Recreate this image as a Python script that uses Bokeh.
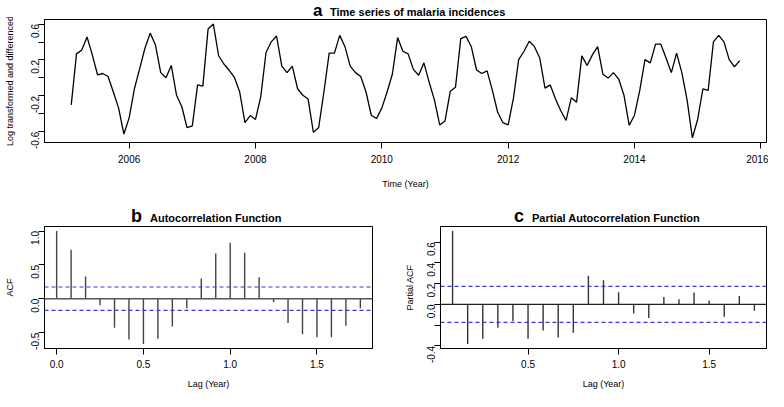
import math
from bokeh.plotting import figure
from bokeh.models import Range1d, FixedTicker, Span, PrintfTickFormatter, Div
from bokeh.layouts import column, row
from bokeh.embed import file_html
from bokeh.resources import INLINE

# ---------------- data ----------------
start_year = 2005
month_index = list(range(1, 129))  # Feb 2005 .. Sep 2015
series_values = [
    -0.300, 0.268, 0.310, 0.456, 0.257, 0.035, 0.049, 0.016, -0.157, -0.337, -0.625, -0.445,
    -0.121, 0.103, 0.330, 0.499, 0.366, 0.059, 0.002, 0.139, -0.193, -0.319, -0.553, -0.535,
    -0.078, -0.092, 0.546, 0.600, 0.247, 0.155, 0.085, 0.005, -0.157, -0.499, -0.420, -0.463,
    -0.211, 0.283, 0.402, 0.467, 0.132, 0.059, 0.132, -0.121, -0.193, -0.236, -0.607, -0.553,
    -0.157, 0.276, 0.276, 0.474, 0.348, 0.132, 0.059, 0.016, -0.157, -0.416, -0.452, -0.337,
    -0.157, 0.041, 0.449, 0.297, 0.268, 0.095, 0.030, 0.168, -0.049, -0.247, -0.524, -0.481,
    -0.149, -0.103, 0.438, 0.463, 0.348, 0.088, 0.049, 0.078, -0.139, -0.380, -0.499, -0.524,
    -0.229, 0.204, 0.294, 0.409, 0.348, 0.222, -0.114, -0.078, -0.236, -0.366, -0.474, -0.222,
    -0.270, 0.245, 0.138, 0.257, 0.348, 0.041, -0.002, 0.059, -0.013, -0.193, -0.528, -0.416,
    -0.139, 0.204, 0.168, 0.376, 0.376, 0.222, 0.059, 0.276, 0.059, -0.247, -0.669, -0.463,
    -0.121, -0.139, 0.402, 0.474, 0.402, 0.204, 0.124, 0.193,
]
years = [start_year + m / 12 for m in month_index]

acf_lag_months = list(range(0, 22))
acf_values = [1.000, 0.725, 0.330, -0.095, -0.427, -0.600, -0.668, -0.592, -0.410, -0.140,
              0.300, 0.668, 0.825, 0.678, 0.318, -0.047, -0.360, -0.526, -0.569, -0.569,
              -0.398, -0.142]
pacf_lag_months = list(range(1, 22))
pacf_values = [0.708, -0.382, -0.332, -0.225, -0.160, -0.332, -0.252, -0.320, -0.274, 0.277,
               0.234, 0.117, -0.089, -0.132, 0.071, 0.049, 0.114, 0.037, -0.120, 0.080, -0.062]
acf_lags = [k / 12 for k in acf_lag_months]
pacf_lags = [k / 12 for k in pacf_lag_months]
conf_limit = 1.96 / math.sqrt(len(series_values))

time_ticks = [2006, 2008, 2010, 2012, 2014, 2016]
ts_y_labeled = [-0.6, -0.2, 0.2, 0.6]
ts_y_all = [-0.6, -0.4, -0.2, 0.0, 0.2, 0.4, 0.6]
acf_x_ticks = [0.0, 0.5, 1.0, 1.5]
acf_y_ticks = [-0.5, 0.0, 0.5, 1.0]
pacf_x_ticks = [0.5, 1.0, 1.5]
pacf_y_labeled = [-0.4, 0.0, 0.2, 0.4, 0.6]
pacf_y_all = [-0.4, -0.2, 0.0, 0.2, 0.4, 0.6]

titles = {
    "a": "Time series of malaria incidences",
    "b": "Autocorrelation Function",
    "c": "Partial Autocorrelation Function",
}

FONT = "Liberation Sans"


def pad_range(lo, hi, frac=0.04):
    d = (hi - lo) * frac
    return Range1d(lo - d, hi + d)


def style(p, xlabel, ylabel, xtick_standoff, xlab_standoff, ylab_standoff):
    p.outline_line_color = "black"
    p.outline_line_width = 1
    p.xgrid.visible = False
    p.ygrid.visible = False
    p.background_fill_color = "white"
    p.border_fill_color = "white"
    for ax in (p.xaxis[0], p.yaxis[0]):
        ax.axis_line_color = "black"
        ax.major_tick_line_color = "black"
        ax.minor_tick_line_color = "black"
        ax.major_tick_out = 6
        ax.major_tick_in = 0
        ax.minor_tick_out = 6
        ax.minor_tick_in = 0
        ax.major_label_text_font = FONT
        ax.major_label_text_font_size = "10px"
        ax.major_label_text_color = "black"
        ax.axis_label_text_font = FONT
        ax.axis_label_text_font_size = "9px"
        ax.axis_label_text_font_style = "normal"
        ax.axis_label_text_color = "black"
    p.xaxis.axis_label = xlabel
    p.yaxis.axis_label = ylabel
    p.xaxis.major_label_standoff = xtick_standoff
    p.yaxis.major_label_standoff = 3
    p.xaxis.axis_label_standoff = xlab_standoff
    p.yaxis.axis_label_standoff = ylab_standoff
    p.yaxis.major_label_orientation = math.pi / 2


def span_box(font_px, baseline):
    # line-height / top offset so that the text baseline lands on `baseline`
    # (Liberation Sans metrics: ascent 0.905 em, descent 0.212 em)
    asc, desc = 0.905 * font_px, 0.212 * font_px
    lh = font_px
    top = baseline - ((lh - asc - desc) / 2 + asc)
    if top < 0:
        lh = 2 * (baseline - asc) + asc + desc
        top = 0
    return lh, top


def title_div(width, height, letter, letter_px, x_letter, x_text, baseline):
    lh_big, top_big = span_box(letter_px, baseline)
    lh_small, top_small = span_box(11, baseline)
    html = (
        f'<div style="position:relative;width:{width}px;height:{height}px;'
        f"font-family:'{FONT}',Arial,sans-serif;font-weight:bold;color:#000;"
        f'white-space:nowrap;margin:0;padding:0;">'
        f'<span style="position:absolute;left:{x_letter}px;top:{top_big:.1f}px;'
        f'font-size:{letter_px}px;line-height:{lh_big:.1f}px;">{letter}</span>'
        f'<span style="position:absolute;left:{x_text}px;top:{top_small:.1f}px;'
        f'font-size:11px;line-height:{lh_small:.1f}px;">{titles[letter]}</span>'
        f'</div>'
    )
    return Div(text=html, width=width, height=height, margin=0)


# ---------------- top: time series ----------------
title_a = title_div(768, 17, "a", 17, 313, 330, 16)
top = figure(width=768, height=179, output_backend="svg", toolbar_location=None,
             x_range=pad_range(min(years), max(years)),
             y_range=pad_range(min(series_values), max(series_values)),
             min_border_left=44, min_border_right=2, min_border_top=2, min_border_bottom=54)
style(top, "Time (Year)", "Log transformed and differenced", 6, 13, 10)
top.xaxis.ticker = FixedTicker(ticks=time_ticks)
top.xaxis.formatter = PrintfTickFormatter(format="%d")
top.yaxis.ticker = FixedTicker(ticks=ts_y_labeled, minor_ticks=ts_y_all)
top.yaxis.formatter = PrintfTickFormatter(format="%.1f")
top.line(years, series_values, line_color="black", line_width=1.3)

# ---------------- bottom left: ACF ----------------
title_b = title_div(392, 28, "b", 18, 131, 150, 26)
acf = figure(width=392, height=167, output_backend="svg", toolbar_location=None,
             x_range=pad_range(min(acf_lags), max(acf_lags)),
             y_range=pad_range(min(acf_values), max(acf_values)),
             min_border_left=44, min_border_right=20, min_border_top=2, min_border_bottom=42)
style(acf, "Lag (Year)", "ACF", 5, 8, 10)
acf.xaxis.ticker = FixedTicker(ticks=acf_x_ticks)
acf.xaxis.formatter = PrintfTickFormatter(format="%.1f")
acf.yaxis.ticker = FixedTicker(ticks=acf_y_ticks)
acf.yaxis.formatter = PrintfTickFormatter(format="%.1f")
acf.add_layout(Span(location=0, dimension="width", line_color="#555555", line_width=1.5))
acf.segment(x0=acf_lags, y0=[0] * len(acf_lags), x1=acf_lags, y1=acf_values,
            line_color="#444444", line_width=1.4)
for c in (conf_limit, -conf_limit):
    acf.add_layout(Span(location=c, dimension="width", line_color="#3a3acc",
                        line_width=1.2, line_dash="4 3"))

# ---------------- bottom right: PACF ----------------
title_c = title_div(376, 28, "c", 18, 122, 140, 26)
pacf = figure(width=376, height=167, output_backend="svg", toolbar_location=None,
              x_range=pad_range(min(pacf_lags), max(pacf_lags)),
              y_range=pad_range(min(pacf_values), max(pacf_values)),
              min_border_left=48, min_border_right=2, min_border_top=2, min_border_bottom=42)
style(pacf, "Lag (Year)", "Partial ACF", 5, 8, 6)
pacf.xaxis.ticker = FixedTicker(ticks=pacf_x_ticks)
pacf.xaxis.formatter = PrintfTickFormatter(format="%.1f")
pacf.yaxis.ticker = FixedTicker(ticks=pacf_y_labeled, minor_ticks=pacf_y_all)
pacf.yaxis.formatter = PrintfTickFormatter(format="%.1f")
pacf.add_layout(Span(location=0, dimension="width", line_color="#222222", line_width=1.3))
pacf.segment(x0=pacf_lags, y0=[0] * len(pacf_lags), x1=pacf_lags, y1=pacf_values,
             line_color="#333333", line_width=1.4)
for c in (conf_limit, -conf_limit):
    pacf.add_layout(Span(location=c, dimension="width", line_color="#3a3acc",
                         line_width=1.2, line_dash="4 3"))

layout = column(title_a, top, row(column(title_b, acf), column(title_c, pacf)))
open("out.html", "w").write(file_html(layout, INLINE))
